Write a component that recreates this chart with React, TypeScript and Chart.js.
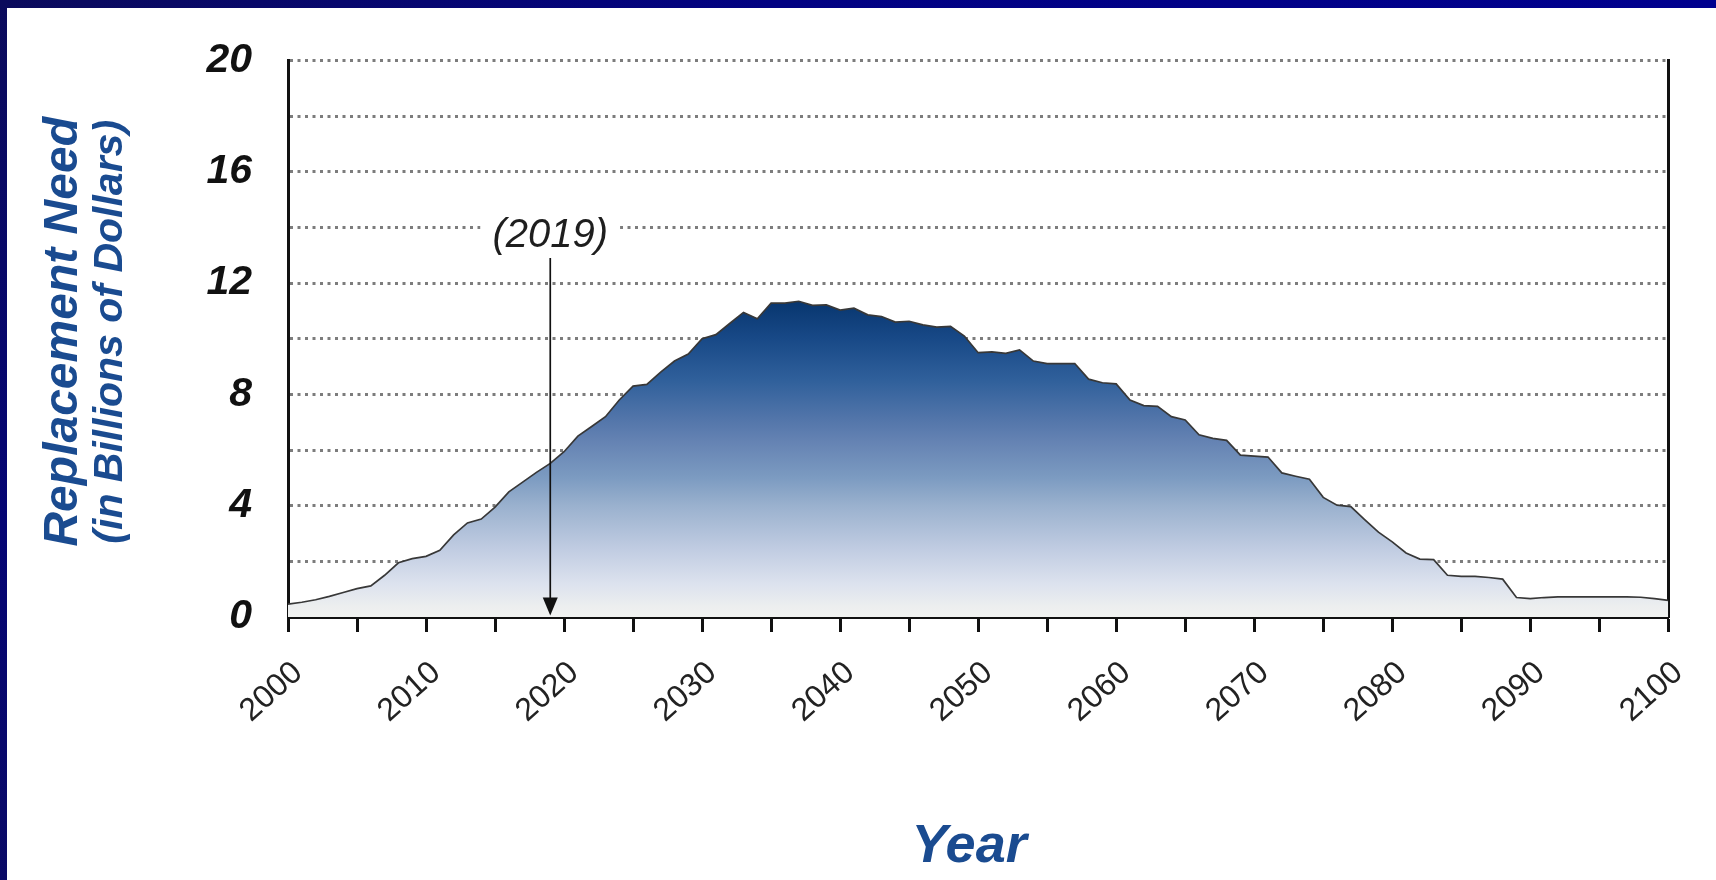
import React, { useEffect, useRef } from 'react';
import { Chart, registerables } from 'chart.js';

Chart.register(...registerables);

// Year of each estimate (one point per year)
const years = [
  2000, 2001, 2002, 2003, 2004, 2005, 2006, 2007, 2008, 2009,
  2010, 2011, 2012, 2013, 2014, 2015, 2016, 2017, 2018, 2019,
  2020, 2021, 2022, 2023, 2024, 2025, 2026, 2027, 2028, 2029,
  2030, 2031, 2032, 2033, 2034, 2035, 2036, 2037, 2038, 2039,
  2040, 2041, 2042, 2043, 2044, 2045, 2046, 2047, 2048, 2049,
  2050, 2051, 2052, 2053, 2054, 2055, 2056, 2057, 2058, 2059,
  2060, 2061, 2062, 2063, 2064, 2065, 2066, 2067, 2068, 2069,
  2070, 2071, 2072, 2073, 2074, 2075, 2076, 2077, 2078, 2079,
  2080, 2081, 2082, 2083, 2084, 2085, 2086, 2087, 2088, 2089,
  2090, 2091, 2092, 2093, 2094, 2095, 2096, 2097, 2098, 2099,
  2100,
];

// Replacement need, billions of dollars
const replacementNeed = [
  0.46, 0.53, 0.62, 0.74, 0.88, 1.02, 1.12, 1.5, 1.95, 2.1,
  2.18, 2.4, 2.95, 3.38, 3.52, 3.95, 4.5, 4.85, 5.2, 5.52,
  5.94, 6.5, 6.85, 7.2, 7.8, 8.3, 8.36, 8.8, 9.2, 9.45,
  10.0, 10.15, 10.55, 10.95, 10.72, 11.28, 11.28, 11.35, 11.2, 11.22,
  11.03, 11.1, 10.86, 10.8, 10.6, 10.63, 10.5, 10.42, 10.45, 10.1,
  9.5, 9.53, 9.48, 9.6, 9.2, 9.11, 9.11, 9.11, 8.55, 8.42,
  8.38, 7.8, 7.6, 7.57, 7.2, 7.08, 6.55, 6.42, 6.35, 5.82,
  5.78, 5.75, 5.18, 5.06, 4.95, 4.3, 4.02, 3.97, 3.5, 3.05,
  2.7, 2.3, 2.08, 2.06, 1.5, 1.46, 1.46, 1.42, 1.36, 0.7,
  0.66, 0.7, 0.72, 0.72, 0.72, 0.72, 0.72, 0.72, 0.71, 0.66,
  0.6,
];

// Labelled ticks (the other ticks are drawn without text)
const xLabelYears = [2000, 2010, 2020, 2030, 2040, 2050, 2060, 2070, 2080, 2090, 2100];
const yLabelValues = [0, 4, 8, 12, 16, 20];

// Marker for the current year
const markerYear = 2019;
const markerText = '(2019)';
const markerArrowTop = 12.9;
const markerTextLevel = 13.75;

const FONT = '"Liberation Sans", Arial, Helvetica, sans-serif';
const TITLE_BLUE = '#1a4b90';

function areaGradient(chart: any) {
  const { ctx, chartArea, scales } = chart;
  if (!chartArea) return 'rgba(60,100,160,0.6)';
  const y = scales.y;
  const g = ctx.createLinearGradient(0, y.getPixelForValue(11.5), 0, y.getPixelForValue(0));
  const stop = (v: number, c: string) => g.addColorStop((11.5 - v) / 11.5, c);
  stop(11.5, '#06346c');
  stop(10, '#184987');
  stop(8.5, '#30609b');
  stop(7, '#5577ab');
  stop(6.3, '#6583b3');
  stop(5, '#7c9bc1');
  stop(4, '#9ab1ce');
  stop(2.5, '#bfcbe1');
  stop(1.2, '#dce2ee');
  stop(0.4, '#eceeef');
  stop(0, '#f1f2f0');
  return g;
}

const decorations = {
  id: 'decorations',
  afterDatasetsDraw(chart: any) {
    const { ctx, scales } = chart;
    const ax = scales.x.getPixelForValue(markerYear);
    const yTop = scales.y.getPixelForValue(markerArrowTop);
    const yTip = scales.y.getPixelForValue(0) - 1.5;
    ctx.save();
    ctx.strokeStyle = '#111';
    ctx.fillStyle = '#111';
    ctx.lineWidth = 1.7;
    ctx.beginPath();
    ctx.moveTo(ax, yTop);
    ctx.lineTo(ax, yTip - 15);
    ctx.stroke();
    ctx.beginPath();
    ctx.moveTo(ax - 7.5, yTip - 18);
    ctx.lineTo(ax + 7.5, yTip - 18);
    ctx.lineTo(ax, yTip);
    ctx.closePath();
    ctx.fill();
    ctx.restore();
  },
  afterDraw(chart: any) {
    const { ctx, scales, chartArea } = chart;
    ctx.save();

    // marker label on a white box
    const ax = scales.x.getPixelForValue(markerYear);
    const ly = scales.y.getPixelForValue(markerTextLevel);
    ctx.font = `italic 40px ${FONT}`;
    const w = ctx.measureText(markerText).width;
    ctx.fillStyle = '#ffffff';
    ctx.fillRect(ax - w / 2 - 12, ly - 20, w + 24, 40);
    ctx.fillStyle = '#1e1e1e';
    ctx.textAlign = 'center';
    ctx.textBaseline = 'middle';
    ctx.fillText(markerText, ax, ly + 1);

    // y axis title (two lines)
    const cy = (chartArea.top + chartArea.bottom) / 2 - 7;
    ctx.fillStyle = TITLE_BLUE;
    ctx.textBaseline = 'alphabetic';
    ctx.save();
    ctx.translate(77, cy);
    ctx.rotate(-Math.PI / 2);
    ctx.font = `italic bold 48px ${FONT}`;
    ctx.fillText('Replacement Need', 0, 0);
    ctx.restore();
    ctx.save();
    ctx.translate(122, cy);
    ctx.rotate(-Math.PI / 2);
    ctx.font = `italic bold 41px ${FONT}`;
    ctx.fillText('(in Billions of Dollars)', 0, 0);
    ctx.restore();

    // x axis title
    ctx.font = `italic bold 54px ${FONT}`;
    ctx.textAlign = 'center';
    ctx.fillText('Year', (chartArea.left + chartArea.right) / 2 - 9, 862);

    ctx.restore();
  },
};

export default function App() {
  const canvasRef = useRef<HTMLCanvasElement | null>(null);

  useEffect(() => {
    const canvas = canvasRef.current;
    if (!canvas) return;
    const chart = new Chart(canvas, {
      type: 'line',
      data: {
        datasets: [
          {
            label: 'Replacement Need',
            data: years.map((yr, i) => ({ x: yr, y: replacementNeed[i] })),
            borderColor: '#383838',
            borderWidth: 1.7,
            pointRadius: 0,
            tension: 0,
            fill: 'origin',
            backgroundColor: (c: any) => areaGradient(c.chart),
          },
        ],
      },
      options: {
        responsive: false,
        animation: false,
        events: [],
        layout: { padding: { top: 60, right: 45, left: 0, bottom: 0 } },
        plugins: {
          legend: { display: false },
          title: { display: false },
          tooltip: { enabled: false },
        },
        scales: {
          x: {
            type: 'linear',
            min: 2000,
            max: 2100,
            z: 1,
            afterFit: (s: any) => {
              s.height = 263;
            },
            ticks: {
              stepSize: 5,
              autoSkip: false,
              minRotation: 42,
              maxRotation: 42,
              padding: 22,
              labelOffset: 10,
              color: '#222',
              font: { family: FONT, size: 32 },
              callback: (v: any) => (xLabelYears.includes(Number(v)) ? String(v) : ''),
            },
            grid: {
              drawOnChartArea: false,
              drawTicks: true,
              tickLength: 15,
              tickWidth: 3,
              tickColor: '#111',
            },
            border: { display: true, color: '#111', width: 3 },
          },
          y: {
            min: 0,
            max: 20,
            z: 1,
            afterFit: (s: any) => {
              s.width = 288;
            },
            ticks: {
              stepSize: 2,
              padding: 36,
              color: '#111',
              font: { family: FONT, size: 41, style: 'italic', weight: 'bold' },
              callback: (v: any) => (yLabelValues.includes(Number(v)) ? String(v) : ''),
            },
            grid: {
              drawTicks: false,
              lineWidth: 3,
              color: (c: any) => (c.tick && c.tick.value === 0 ? 'rgba(0,0,0,0)' : '#7c7c7c'),
            },
            border: { display: true, color: '#111', width: 3, dash: [3, 4.5] },
          },
          y2: {
            position: 'right',
            min: 0,
            max: 20,
            z: 1,
            afterFit: (s: any) => {
              s.width = 0;
            },
            ticks: { display: false },
            grid: { drawOnChartArea: false, drawTicks: false },
            border: { display: true, color: '#111', width: 3 },
          },
        },
      },
      plugins: [decorations],
    } as any);
    return () => chart.destroy();
  }, []);

  return (
    <div
      style={{
        position: 'absolute',
        left: 0,
        top: 0,
        width: 1716,
        height: 880,
        background: '#ffffff',
        overflow: 'hidden',
      }}
    >
      <canvas ref={canvasRef} width={1716} height={880} style={{ position: 'absolute', left: 0, top: 0 }} />
      <div
        style={{
          position: 'absolute',
          left: 0,
          top: 0,
          width: 1716,
          height: 8,
          background: 'linear-gradient(90deg, #0b0b5c 0%, #020282 45%, #00008e 100%)',
        }}
      />
      <div
        style={{
          position: 'absolute',
          left: 0,
          top: 0,
          width: 7,
          height: 880,
          background: 'linear-gradient(180deg, #0b0b5c 0%, #050574 60%, #0a0a66 100%)',
        }}
      />
    </div>
  );
}
